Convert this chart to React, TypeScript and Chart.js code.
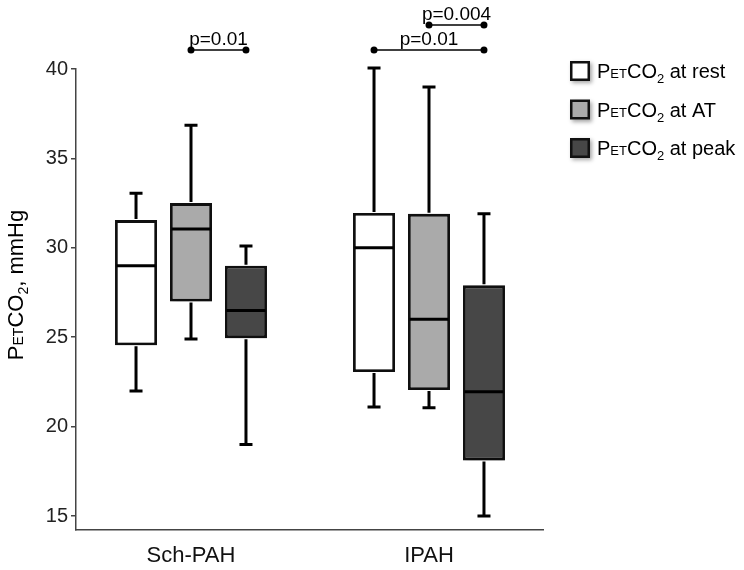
import React, { useEffect, useRef } from 'react';
import { Chart, registerables } from 'chart.js';

Chart.register(...registerables);

// ---- data ----
const categories = ['Sch-PAH', 'IPAH'];
const seriesLabels = ['at rest', 'at AT', 'at peak'];
const seriesColors = ['#ffffff', '#aaaaaa', '#474747'];
const yTicks = [15, 20, 25, 30, 35, 40];

const restMin = [22.0, 21.1];
const restQ1 = [24.55, 23.05];
const restMed = [29.0, 30.0];
const restQ3 = [31.55, 31.95];
const restMax = [33.05, 40.05];

const atMin = [24.9, 21.05];
const atQ1 = [27.0, 22.05];
const atMed = [31.05, 26.0];
const atQ3 = [32.5, 31.9];
const atMax = [36.85, 39.0];

const peakMin = [19.0, 15.0];
const peakQ1 = [24.95, 18.1];
const peakMed = [26.5, 21.95];
const peakQ3 = [29.0, 27.9];
const peakMax = [30.1, 31.9];

// significance brackets
const sigGroup = [0, 1, 1];
const sigFrom = [1, 0, 1];
const sigTo = [2, 2, 2];
const sigLabel = ['p=0.01', 'p=0.01', 'p=0.004'];
const sigTier = [0, 0, 1];

const mins = [restMin, atMin, peakMin];
const q1s = [restQ1, atQ1, peakQ1];
const meds = [restMed, atMed, peakMed];
const q3s = [restQ3, atQ3, peakQ3];
const maxs = [restMax, atMax, peakMax];

const FONT = '"Liberation Sans", Arial, Helvetica, sans-serif';

type Seg = { t: string; size: number; dy?: number };

function measureRich(ctx: CanvasRenderingContext2D, segs: Seg[]) {
  let w = 0;
  for (const s of segs) {
    ctx.font = `${s.size}px ${FONT}`;
    w += ctx.measureText(s.t).width;
  }
  return w;
}

function drawRich(ctx: CanvasRenderingContext2D, x: number, y: number, segs: Seg[]) {
  let cx = x;
  for (const s of segs) {
    ctx.font = `${s.size}px ${FONT}`;
    ctx.fillText(s.t, cx, y + (s.dy || 0));
    cx += ctx.measureText(s.t).width;
  }
}

const boxPlugin = {
  id: 'boxExtras',
  beforeDatasetDraw(chart: any) {
    const ctx = chart.ctx;
    ctx.save();
    ctx.shadowColor = 'rgba(0,0,0,0.35)';
    ctx.shadowBlur = 5;
    ctx.shadowOffsetX = 2;
    ctx.shadowOffsetY = 2;
  },
  afterDatasetDraw(chart: any) {
    chart.ctx.restore();
  },
  afterDatasetsDraw(chart: any) {
    const ctx: CanvasRenderingContext2D = chart.ctx;
    const y = chart.scales.y;
    const area = chart.chartArea;
    ctx.save();
    ctx.strokeStyle = '#000';
    ctx.lineCap = 'butt';
    // whiskers & medians
    for (let d = 0; d < 3; d++) {
      const meta = chart.getDatasetMeta(d);
      meta.data.forEach((bar: any, i: number) => {
        const x = bar.x;
        const hw = bar.width / 2;
        const pMin = y.getPixelForValue(mins[d][i]);
        const pQ1 = y.getPixelForValue(q1s[d][i]);
        const pMed = y.getPixelForValue(meds[d][i]);
        const pQ3 = y.getPixelForValue(q3s[d][i]);
        const pMax = y.getPixelForValue(maxs[d][i]);
        ctx.lineWidth = 3;
        ctx.beginPath();
        ctx.moveTo(x, pQ3 - 1);
        ctx.lineTo(x, pMax);
        ctx.moveTo(x, pQ1 + 1);
        ctx.lineTo(x, pMin);
        ctx.moveTo(x - 6.5, pMax);
        ctx.lineTo(x + 6.5, pMax);
        ctx.moveTo(x - 6.5, pMin);
        ctx.lineTo(x + 6.5, pMin);
        ctx.stroke();
        ctx.beginPath();
        ctx.moveTo(x - hw + 1.5, pMed);
        ctx.lineTo(x + hw - 1.5, pMed);
        ctx.stroke();
      });
    }
    // significance brackets
    ctx.fillStyle = '#000';
    ctx.lineWidth = 1.5;
    for (let k = 0; k < sigLabel.length; k++) {
      const b1 = chart.getDatasetMeta(sigFrom[k]).data[sigGroup[k]];
      const b2 = chart.getDatasetMeta(sigTo[k]).data[sigGroup[k]];
      const ly = area.top - 19 - sigTier[k] * 25;
      ctx.beginPath();
      ctx.moveTo(b1.x, ly);
      ctx.lineTo(b2.x, ly);
      ctx.stroke();
      for (const px of [b1.x, b2.x]) {
        ctx.beginPath();
        ctx.arc(px, ly, 3.5, 0, Math.PI * 2);
        ctx.fill();
      }
      ctx.font = `19px ${FONT}`;
      ctx.textAlign = 'center';
      ctx.textBaseline = 'alphabetic';
      ctx.fillText(sigLabel[k], (b1.x + b2.x) / 2, ly - 5);
    }
    // legend
    ctx.textAlign = 'left';
    for (let d = 0; d < 3; d++) {
      const cy = 71 + d * 38.5;
      ctx.save();
      ctx.shadowColor = 'rgba(0,0,0,0.35)';
      ctx.shadowBlur = 4;
      ctx.shadowOffsetX = 2;
      ctx.shadowOffsetY = 2;
      ctx.fillStyle = '#111';
      ctx.fillRect(570, cy - 10, 20, 20);
      ctx.restore();
      ctx.fillStyle = seriesColors[d];
      ctx.fillRect(572.5, cy - 7.5, 15, 15);
      ctx.fillStyle = '#000';
      drawRich(ctx, 597, cy + 7, [
        { t: 'P', size: 20 },
        { t: 'ET', size: 13 },
        { t: 'CO', size: 20 },
        { t: '2', size: 13, dy: 5 },
        { t: ' ' + seriesLabels[d], size: 20 },
      ]);
    }
    // y-axis title
    const tSegs: Seg[] = [
      { t: 'P', size: 22 },
      { t: 'ET', size: 14 },
      { t: 'CO', size: 22 },
      { t: '2', size: 14, dy: 5 },
      { t: ', mmHg', size: 22 },
    ];
    const tw = measureRich(ctx, tSegs);
    ctx.translate(23, 285);
    ctx.rotate(-Math.PI / 2);
    ctx.fillStyle = '#000';
    drawRich(ctx, -tw / 2, 0, tSegs);
    ctx.restore();
  },
};

export default function App() {
  const ref = useRef<HTMLCanvasElement | null>(null);
  useEffect(() => {
    if (!ref.current) return;
    const chart = new Chart(ref.current, {
      type: 'bar',
      data: {
        datasets: [0, 1, 2].map((d) => ({
          label: seriesLabels[d],
          data: categories.map((_, i) => ({ x: i, y: [q1s[d][i], q3s[d][i]] })),
          backgroundColor: seriesColors[d],
          borderColor: '#111',
          borderWidth: 2.8,
          borderSkipped: false,
          barPercentage: 0.764,
          categoryPercentage: 0.693,
        })),
      },
      options: {
        animation: false,
        responsive: false,
        maintainAspectRatio: false,
        layout: { padding: { top: 69, right: 201, left: 0, bottom: 0 } },
        plugins: {
          legend: { display: false },
          tooltip: { enabled: false },
          title: { display: false },
        },
        scales: {
          x: {
            type: 'linear',
            min: -0.4832,
            max: 1.479,
            offset: false,
            afterBuildTicks: (s: any) => {
              s.ticks = categories.map((_, i) => ({ value: i }));
            },
            grid: { display: false, drawTicks: false },
            border: { display: true, color: '#444', width: 1.5 },
            ticks: {
              color: '#111',
              font: { size: 22, family: FONT },
              padding: 13,
              autoSkip: false,
              maxRotation: 0,
              callback: (v: any) => categories[Math.round(Number(v))] ?? '',
            },
            afterFit: (s: any) => {
              s.height = 40;
            },
          },
          y: {
            type: 'linear',
            min: 14.22,
            max: 40,
            afterBuildTicks: (s: any) => {
              s.ticks = yTicks.map((v) => ({ value: v }));
            },
            grid: { drawOnChartArea: false, drawTicks: true, tickLength: 5, color: '#444', lineWidth: 1.5 },
            border: { display: true, color: '#444', width: 1.5 },
            ticks: { color: '#222', font: { size: 20, family: FONT }, padding: 3 },
            afterFit: (s: any) => {
              s.width = 76;
            },
          },
        },
      } as any,
      plugins: [boxPlugin],
    });
    return () => chart.destroy();
  }, []);
  return (
    <div style={{ position: 'absolute', left: 0, top: 0, width: 744, height: 570, background: '#fff' }}>
      <canvas ref={ref} width={744} height={570} style={{ width: 744, height: 570 }} />
    </div>
  );
}
